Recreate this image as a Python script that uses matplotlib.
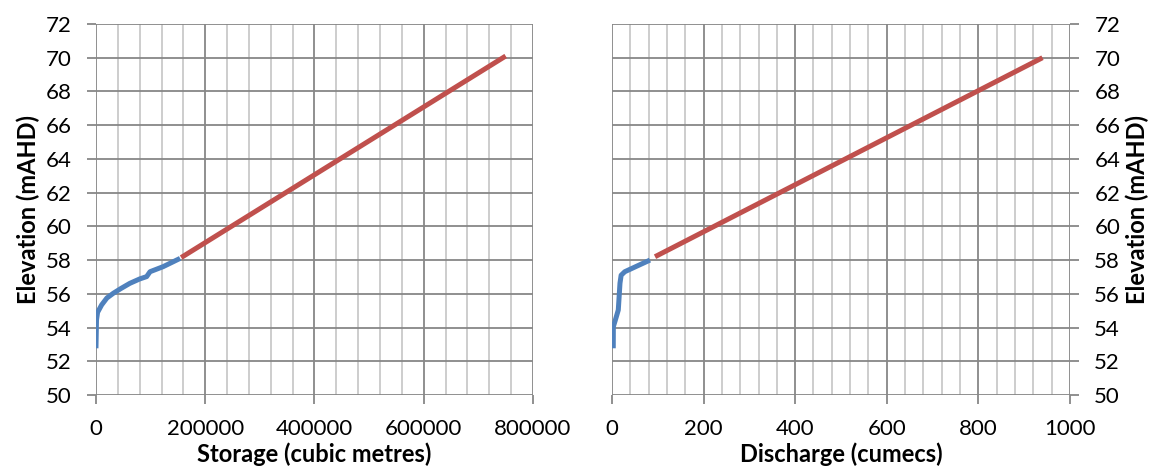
import matplotlib.pyplot as plt
from matplotlib.ticker import MultipleLocator

# storage curve (cubic metres vs mAHD)
storage_low = [0, 1000, 3000, 10400, 20000, 31700, 45000, 62000, 80000, 92800, 99000, 123000, 154000]
elev_storage_low = [52.77, 54.45, 54.9, 55.34, 55.75, 56.03, 56.3, 56.62, 56.88, 57.02, 57.31, 57.61, 58.1]
storage_high = [156000, 750000]
elev_storage_high = [58.15, 70.1]

# discharge curve (cumecs vs mAHD)
discharge_low = [2.8, 3, 8, 13.8, 17.5, 20, 28, 55, 83]
elev_discharge_low = [52.77, 54.05, 54.5, 55.04, 56.63, 57.1, 57.31, 57.65, 58.0]
discharge_high = [94, 940]
elev_discharge_high = [58.2, 70.0]

blue = '#4F81BD'
red = '#C0504D'

plt.rcParams['font.family'] = ['Lato', 'DejaVu Sans']

fig = plt.figure(figsize=(11.63, 4.76), dpi=100)
ax1 = fig.add_axes([0.0825, 0.1702, 0.3758, 0.7794])
ax2 = fig.add_axes([0.5262, 0.1702, 0.3938, 0.7794])


def style(ax, xmax, xmajor, xminor):
    ax.set_xlim(0, xmax)
    ax.set_ylim(50, 72)
    ax.xaxis.set_major_locator(MultipleLocator(xmajor))
    ax.xaxis.set_minor_locator(MultipleLocator(xminor))
    ax.yaxis.set_major_locator(MultipleLocator(2))
    ax.grid(which='major', color='#878787', lw=1.3)
    ax.grid(which='minor', axis='x', color='#c0c0c0', lw=1.1)
    ax.set_axisbelow(True)
    for s in ax.spines.values():
        s.set_visible(False)
    ax.tick_params(which='major', length=6.5, width=1.3, color='#878787',
                   labelsize=16, pad=11)
    ax.tick_params(which='minor', length=0)


style(ax1, 800000, 200000, 40000)
ax1.plot(storage_low, elev_storage_low, color=blue, lw=3.6, solid_capstyle='butt')
ax1.plot(storage_high, elev_storage_high, color=red, lw=3.6, solid_capstyle='butt')
ax1.set_xlabel('Storage (cubic metres)', fontsize=17, fontweight='bold', labelpad=2)
ax1.set_ylabel('Elevation (mAHD)', fontsize=17, fontweight='bold', labelpad=4)

style(ax2, 1000, 200, 40)
ax2.plot(discharge_low, elev_discharge_low, color=blue, lw=3.6, solid_capstyle='butt')
ax2.plot(discharge_high, elev_discharge_high, color=red, lw=3.6, solid_capstyle='butt')
ax2.yaxis.tick_right()
ax2.yaxis.set_label_position('right')
ax2.set_xlabel('Discharge (cumecs)', fontsize=17, fontweight='bold', labelpad=2)
ax2.set_ylabel('Elevation (mAHD)', fontsize=17, fontweight='bold', labelpad=4)

fig.savefig('out.png', dpi=100)
